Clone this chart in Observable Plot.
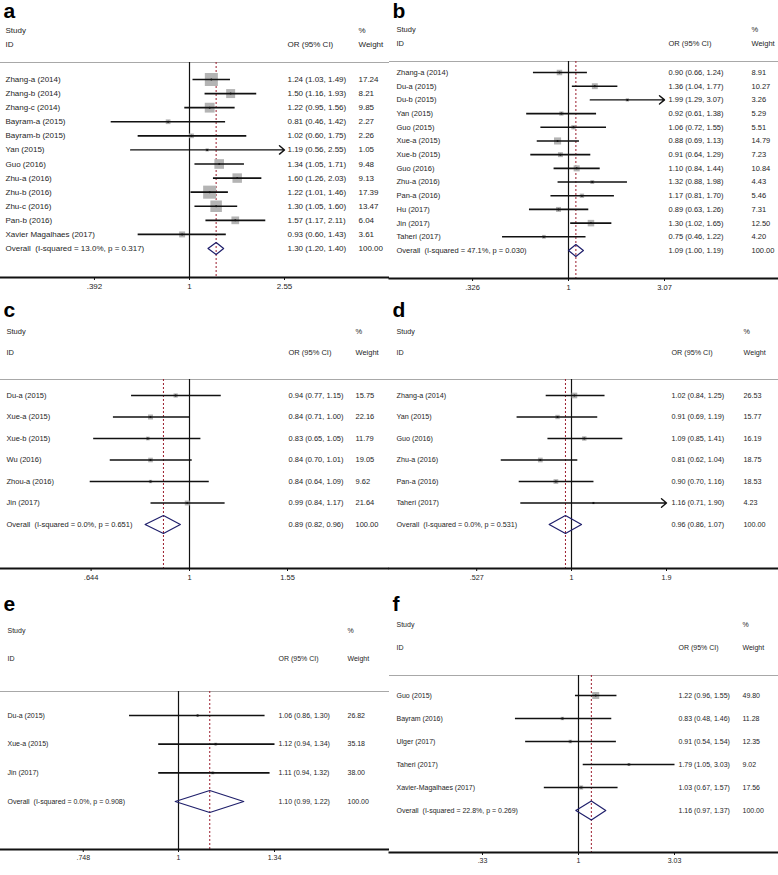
<!DOCTYPE html>
<html>
<head>
<meta charset="utf-8">
<script src="https://cdn.jsdelivr.net/npm/d3@7"></script>
<script src="https://cdn.jsdelivr.net/npm/@observablehq/plot@0.6"></script>
<style>
  html, body { margin: 0; padding: 0; background: #fff; }
  #wrap { position: relative; width: 778px; height: 875px; background: #fff; overflow: hidden; }
  .panel { position: absolute; }
</style>
</head>
<body>
<div id="wrap"></div>
<script>
// ---------------- DATA ----------------
// Panel a
const studiesA = ["Zhang-a (2014)","Zhang-b (2014)","Zhang-c (2014)","Bayram-a (2015)","Bayram-b (2015)","Yan (2015)","Guo (2016)","Zhu-a (2016)","Zhu-b (2016)","Zhu-c (2016)","Pan-b (2016)","Xavier Magalhaes (2017)"];
const orA = [1.24,1.50,1.22,0.81,1.02,1.19,1.34,1.60,1.22,1.30,1.57,0.93];
const loA = [1.03,1.16,0.95,0.46,0.60,0.56,1.05,1.26,1.01,1.05,1.17,0.60];
const hiA = [1.49,1.93,1.56,1.42,1.75,2.55,1.71,2.03,1.46,1.60,2.11,1.43];
const wA  = [17.24,8.21,9.85,2.27,2.26,1.05,9.48,9.13,17.39,13.47,6.04,3.61];
const clipA = ["Yan (2015)"];
const overallA = [1.30,1.20,1.40];
const overallLabelA = "Overall\u00a0 (I-squared = 13.0%, p = 0.317)";
const ticksA = [0.392,1,2.55];
const tickLabelsA = [".392","1","2.55"];

// Panel b
const studiesB = ["Zhang-a (2014)","Du-a (2015)","Du-b (2015)","Yan (2015)","Guo (2015)","Xue-a (2015)","Xue-b (2015)","Guo (2016)","Zhu-a (2016)","Pan-a (2016)","Hu (2017)","Jin (2017)","Taheri (2017)"];
const orB = [0.90,1.36,1.99,0.92,1.06,0.88,0.91,1.10,1.32,1.17,0.89,1.30,0.75];
const loB = [0.66,1.04,1.29,0.61,0.72,0.69,0.64,0.84,0.88,0.81,0.63,1.02,0.46];
const hiB = [1.24,1.77,3.07,1.38,1.55,1.13,1.29,1.44,1.98,1.70,1.26,1.65,1.22];
const wB  = [8.91,10.27,3.26,5.29,5.51,14.79,7.23,10.84,4.43,5.46,7.31,12.50,4.20];
const clipB = ["Du-b (2015)"];
const overallB = [1.09,1.00,1.19];
const overallLabelB = "Overall\u00a0 (I-squared = 47.1%, p = 0.030)";
const ticksB = [0.326,1,3.07];
const tickLabelsB = [".326","1","3.07"];

// Panel c
const studiesC = ["Du-a (2015)","Xue-a (2015)","Xue-b (2015)","Wu (2016)","Zhou-a (2016)","Jin (2017)"];
const orC = [0.94,0.84,0.83,0.84,0.84,0.99];
const loC = [0.77,0.71,0.65,0.70,0.64,0.84];
const hiC = [1.15,1.00,1.05,1.01,1.09,1.17];
const wC  = [15.75,22.16,11.79,19.05,9.62,21.64];
const clipC = [];
const overallC = [0.89,0.82,0.96];
const overallLabelC = "Overall\u00a0 (I-squared = 0.0%, p = 0.651)";
const ticksC = [0.644,1,1.55];
const tickLabelsC = [".644","1","1.55"];

// Panel d
const studiesD = ["Zhang-a (2014)","Yan (2015)","Guo (2016)","Zhu-a (2016)","Pan-a (2016)","Taheri (2017)"];
const orD = [1.02,0.91,1.09,0.81,0.90,1.16];
const loD = [0.84,0.69,0.85,0.62,0.70,0.71];
const hiD = [1.25,1.19,1.41,1.04,1.16,1.90];
const wD  = [26.53,15.77,16.19,18.75,18.53,4.23];
const clipD = ["Taheri (2017)"];
const overallD = [0.96,0.86,1.07];
const overallLabelD = "Overall\u00a0 (I-squared = 0.0%, p = 0.531)";
const ticksD = [0.527,1,1.9];
const tickLabelsD = [".527","1","1.9"];

// Panel e
const studiesE = ["Du-a (2015)","Xue-a (2015)","Jin (2017)"];
const orE = [1.06,1.12,1.11];
const loE = [0.86,0.94,0.94];
const hiE = [1.30,1.34,1.32];
const wE  = [26.82,35.18,38.00];
const clipE = [];
const overallE = [1.10,0.99,1.22];
const overallLabelE = "Overall\u00a0 (I-squared = 0.0%, p = 0.908)";
const ticksE = [0.748,1,1.34];
const tickLabelsE = [".748","1","1.34"];

// Panel f
const studiesF = ["Guo (2015)","Bayram (2016)","Ulger (2017)","Taheri (2017)","Xavier-Magalhaes (2017)"];
const orF = [1.22,0.83,0.91,1.79,1.03];
const loF = [0.96,0.48,0.54,1.05,0.67];
const hiF = [1.55,1.46,1.54,3.03,1.57];
const wF  = [49.80,11.28,12.35,9.02,17.56];
const clipF = [];
const overallF = [1.16,0.97,1.37];
const overallLabelF = "Overall\u00a0 (I-squared = 22.8%, p = 0.269)";
const ticksF = [0.33,1,3.03];
const tickLabelsF = [".33","1","3.03"];

// ---------------- LAYOUT / STYLE ----------------
const FONT = "'Liberation Sans', Arial, Helvetica, sans-serif";
const TXT = "#1e1e1e";

function forest(d, L) {
  const n = d.studies.length;
  const rows = d.studies.map((s, i) => ({
    i, s, or: d.or[i], lo: d.lo[i], hi: d.hi[i], w: d.w[i], clip: d.clip.includes(s)
  }));
  const k = d.ticks[d.ticks.length - 1];
  const ppl = (L.pk - L.p1) / Math.log(k);
  const domain = [Math.exp(-L.p1 / ppl), Math.exp((L.width - L.p1) / ppl)];
  const spacing = (L.rowOverall - L.rowFirst) / n;
  const h = L.diamondH / spacing;
  const [oOr, oLo, oHi] = d.overall;
  const diamond = [
    {x: oLo, y: n}, {x: oOr, y: n - h}, {x: oHi, y: n}, {x: oOr, y: n + h}, {x: oLo, y: n}
  ];
  const f2 = v => v.toFixed(2);
  const textRows = rows.map(r => ({i: r.i, s: r.s, ci: `${f2(r.or)} (${f2(r.lo)}, ${f2(r.hi)})`, w: f2(r.w)}))
    .concat([{i: n, s: d.overallLabel, ci: `${f2(oOr)} (${f2(oLo)}, ${f2(oHi)})`, w: "100.00"}]);
  const labelMap = new Map(d.ticks.map((t, i) => [t, d.tickLabels[i]]));
  const hdr = (txt, dx, yy) => Plot.text([txt], {
    frameAnchor: "top-left", dx, dy: yy - L.top, textAnchor: "start", lineAnchor: "middle",
    fontSize: L.fs, fill: TXT
  });
  const col = (field, dx) => Plot.text(textRows, {
    y: "i", text: field, frameAnchor: "left", dx, textAnchor: "start", lineAnchor: "middle",
    fontSize: L.fs, fill: TXT
  });
  return Plot.plot({
    width: L.width, height: L.height,
    marginTop: L.top, marginBottom: L.height - L.axisY, marginLeft: 0, marginRight: 0,
    style: {fontFamily: FONT, background: "white", overflow: "visible"},
    x: {type: "log", domain, range: [0, L.width]},
    y: {domain: [0, n], range: [L.rowFirst, L.rowOverall], axis: null},
    r: {type: "sqrt", domain: [0, 100], range: [0, L.boxR]},
    marks: [
      Plot.frame({anchor: "top", stroke: "#a8a8a8", strokeWidth: 1}),
      Plot.ruleX([1], {stroke: "#111", strokeWidth: 1.2}),
      Plot.ruleX([oOr], {stroke: "#9b1c2c", strokeWidth: 1, strokeDasharray: "2,2"}),
      Plot.dot(rows, {x: "or", y: "i", r: "w", symbol: "square", fill: "#b4b4b4", stroke: null}),
      Plot.link(rows.filter(r => !r.clip), {x1: "lo", x2: "hi", y1: "i", y2: "i", stroke: "#111", strokeWidth: 1.6}),
      Plot.arrow(rows.filter(r => r.clip), {x1: "lo", x2: "hi", y1: "i", y2: "i", stroke: "#111", strokeWidth: 1.4, headLength: 7, headAngle: 80}),
      Plot.dot(rows, {x: "or", y: "i", r: 1, fill: "#111"}),
      Plot.line(diamond, {x: "x", y: "y", stroke: "#1f1f6b", strokeWidth: 1.2}),
      Plot.frame({anchor: "bottom", stroke: "#111", strokeWidth: 2}),
      Plot.axisX({ticks: d.ticks, tickFormat: v => labelMap.get(v), tickSize: 3, tickPadding: 3,
                  fontSize: L.fs, label: null, anchor: "bottom", stroke: "#111", fill: TXT}),
      Plot.text([d.letter], {frameAnchor: "top-left", dx: 3, dy: L.letterY - L.top, fontSize: 21,
                             fontWeight: "bold", textAnchor: "start", lineAnchor: "middle", fill: "#000"}),
      hdr("Study", L.cStudy, L.hStudy),
      hdr("ID", L.cStudy, L.hId),
      hdr("OR (95% CI)", L.cOr, L.hId),
      hdr("%", L.cW, L.hStudy),
      hdr("Weight", L.cW, L.hId),
      col("s", L.cStudy),
      col("ci", L.cOr),
      col("w", L.cW)
    ]
  });
}

const panels = [
  {left: 0, top: 0,
   d: {letter: "a", studies: studiesA, or: orA, lo: loA, hi: hiA, w: wA, clip: clipA, overall: overallA, overallLabel: overallLabelA, ticks: ticksA, tickLabels: tickLabelsA},
   L: {width: 389, height: 300, top: 62, axisY: 277, rowFirst: 79, rowOverall: 248, p1: 189, pk: 284,
       cStudy: 5, cOr: 287, cW: 358, hStudy: 30, hId: 44, letterY: 10.5, boxR: 17.7, diamondH: 6, fs: 8}},
  {left: 389, top: 0,
   d: {letter: "b", studies: studiesB, or: orB, lo: loB, hi: hiB, w: wB, clip: clipB, overall: overallB, overallLabel: overallLabelB, ticks: ticksB, tickLabels: tickLabelsB},
   L: {width: 389, height: 300, top: 61, axisY: 278, rowFirst: 72, rowOverall: 250, p1: 179, pk: 275,
       cStudy: 7, cOr: 279, cW: 362, hStudy: 29, hId: 43, letterY: 10.5, boxR: 10.4, diamondH: 6, fs: 7.5}},
  {left: 0, top: 300,
   d: {letter: "c", studies: studiesC, or: orC, lo: loC, hi: hiC, w: wC, clip: clipC, overall: overallC, overallLabel: overallLabelC, ticks: ticksC, tickLabels: tickLabelsC},
   L: {width: 389, height: 290, top: 79, axisY: 268, rowFirst: 95, rowOverall: 224, p1: 189, pk: 287,
       cStudy: 6, cOr: 288, cW: 355, hStudy: 31, hId: 52, letterY: 9.5, boxR: 6, diamondH: 9, fs: 7.5}},
  {left: 389, top: 300,
   d: {letter: "d", studies: studiesD, or: orD, lo: loD, hi: hiD, w: wD, clip: clipD, overall: overallD, overallLabel: overallLabelD, ticks: ticksD, tickLabels: tickLabelsD},
   L: {width: 389, height: 290, top: 79, axisY: 268, rowFirst: 95, rowOverall: 224, p1: 182, pk: 277,
       cStudy: 7, cOr: 282, cW: 354, hStudy: 31, hId: 52, letterY: 9.5, boxR: 6.2, diamondH: 9, fs: 7.2}},
  {left: 0, top: 590,
   d: {letter: "e", studies: studiesE, or: orE, lo: loE, hi: hiE, w: wE, clip: clipE, overall: overallE, overallLabel: overallLabelE, ticks: ticksE, tickLabels: tickLabelsE},
   L: {width: 389, height: 285, top: 101, axisY: 259, rowFirst: 125, rowOverall: 211, p1: 178, pk: 274,
       cStudy: 7, cOr: 278, cW: 347, hStudy: 40, hId: 68, letterY: 13.5, boxR: 2.8, diamondH: 11, fs: 7}},
  {left: 389, top: 590,
   d: {letter: "f", studies: studiesF, or: orF, lo: loF, hi: hiF, w: wF, clip: clipF, overall: overallF, overallLabel: overallLabelF, ticks: ticksF, tickLabels: tickLabelsF},
   L: {width: 389, height: 285, top: 85, axisY: 262, rowFirst: 105, rowOverall: 220, p1: 189, pk: 285,
       cStudy: 7, cOr: 289, cW: 353, hStudy: 34, hId: 57, letterY: 13.5, boxR: 5.6, diamondH: 9.5, fs: 7}}
];

const wrap = document.getElementById("wrap");
for (const p of panels) {
  const div = document.createElement("div");
  div.className = "panel";
  div.style.left = p.left + "px";
  div.style.top = p.top + "px";
  div.appendChild(forest(p.d, p.L));
  wrap.appendChild(div);
}
</script>
</body>
</html>
